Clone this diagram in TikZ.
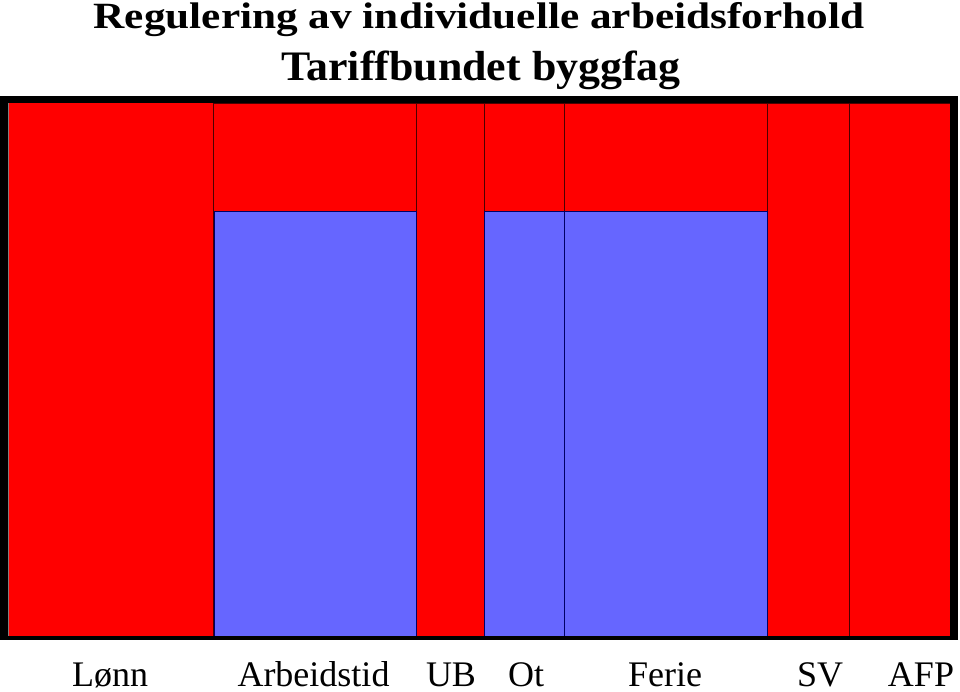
\documentclass[tikz,border=0pt]{standalone}
\usepackage{fontspec}
\setmainfont{Liberation Serif}
\definecolor{barred}{HTML}{FF0000}
\definecolor{barblue}{HTML}{6666FF}
\begin{document}
\begin{tikzpicture}[x=1pt,y=-1pt,
  titleone/.style={font=\fontsize{37}{37}\selectfont\bfseries, anchor=base, inner sep=0pt, xscale=1.17},
  titletwo/.style={font=\fontsize{42}{42}\selectfont\bfseries, anchor=base, inner sep=0pt, xscale=1.045},
  labeltext/.style={font=\fontsize{36}{36}\selectfont, anchor=base, inner sep=0pt},
  redcol/.style={fill=barred, draw=black!70!red, line width=0.8pt},
  bluecol/.style={fill=barblue, draw=black!60!blue, line width=0.6pt}]
\useasboundingbox (0,0) rectangle (960,691);
% frame
\fill[black] (0,96) rectangle (958,640);
\fill[barred] (8,103) rectangle (950,636);
\draw[gray, line width=0.8pt] (8,103) -- (8,636);
% columns
\draw[redcol] (213,103) rectangle (416,636);
\draw[redcol] (416,103) rectangle (484,636);
\draw[redcol] (484,103) rectangle (564,636);
\draw[redcol] (564,103) rectangle (767,636);
\draw[redcol] (767,103) rectangle (849,636);
\draw[redcol] (849,103) rectangle (950,636);
% blue parts
\draw[bluecol] (214,211) rectangle (416,636);
\draw[bluecol] (484,211) rectangle (564,636);
\draw[bluecol] (564,211) rectangle (767,636);
% restore frame edges
\fill[black] (0,636) rectangle (958,640);
\fill[black] (950,96) rectangle (958,640);
\fill[black] (0,96) rectangle (958,103);
% titles
\node[titleone] (t1) at (479,28) {Regulering av individuelle arbeidsforhold};
\node[titletwo] (t2) at (481,80) {Tariffbundet byggfag};
% labels
\node[labeltext] (l1) at (110,686) {Lønn};
\node[labeltext] (l2) at (313.5,686) {Arbeidstid};
\node[labeltext] (l3) at (451,686) {UB};
\node[labeltext] (l4) at (526,686) {Ot};
\node[labeltext] (l5) at (665,686) {Ferie};
\node[labeltext] (l6) at (820,686) {SV};
\node[labeltext] (l7) at (921,686) {AFP};
\end{tikzpicture}
\end{document}
